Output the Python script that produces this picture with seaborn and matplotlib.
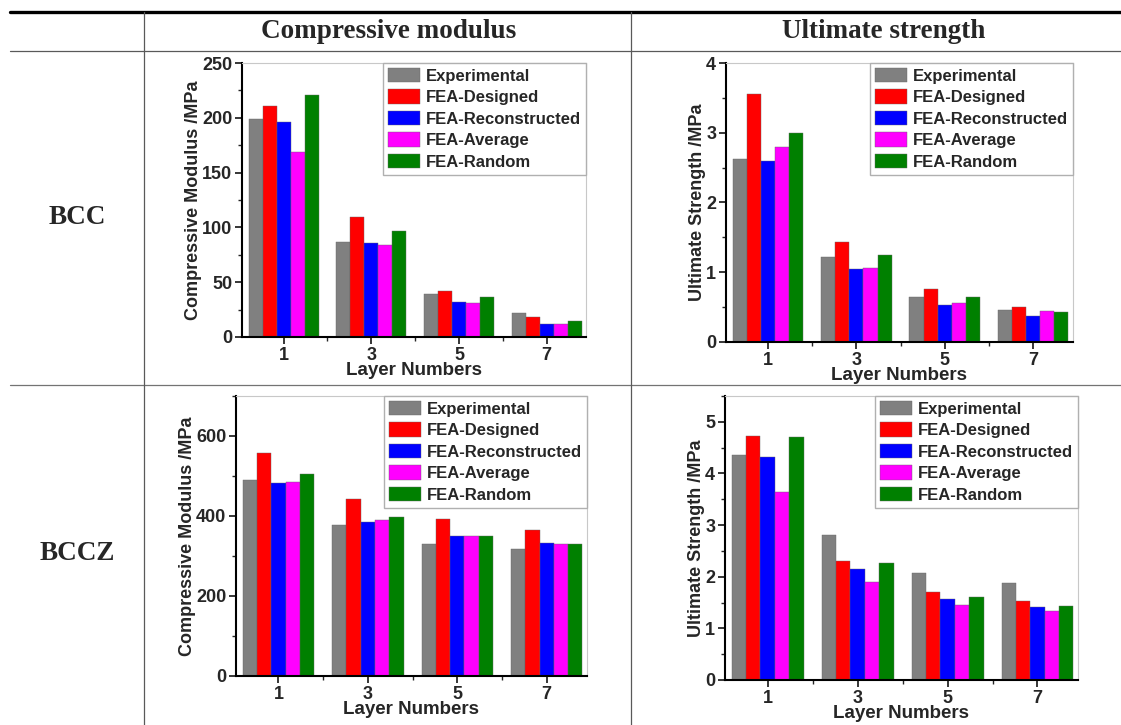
import matplotlib
matplotlib.use("Agg")
from matplotlib import pyplot as plt
from matplotlib.lines import Line2D
from matplotlib.ticker import MultipleLocator, FixedLocator
import pandas as pd
import seaborn as sns

sns.set_style("ticks")
plt.rcParams['font.family'] = ['Liberation Sans', 'DejaVu Sans']
plt.rcParams['font.weight'] = 'bold'
plt.rcParams['axes.labelweight'] = 'bold'

# Data
layers = [1, 3, 5, 7]
series = ["Experimental", "FEA-Designed", "FEA-Reconstructed", "FEA-Average", "FEA-Random"]
colors = ["#808080", "#ff0000", "#0000ff", "#ff00ff", "#008000"]

# rows follow the order of `series`, columns follow `layers`
bcc_modulus = [
    [199, 87, 39, 22],
    [211, 109.5, 41.5, 18],
    [196, 85.5, 31.5, 12],
    [168.5, 84, 31, 12],
    [220.5, 96.5, 36.5, 14.5],
]
bcc_strength = [
    [2.62, 1.22, 0.64, 0.46],
    [3.55, 1.44, 0.76, 0.50],
    [2.59, 1.05, 0.535, 0.37],
    [2.80, 1.06, 0.555, 0.45],
    [3.00, 1.245, 0.65, 0.43],
]
bccz_modulus = [
    [490, 378, 330, 317],
    [558, 443, 392, 366],
    [483, 386, 351, 332],
    [485, 391, 350, 329],
    [504, 398, 351, 330],
]
bccz_strength = [
    [4.36, 2.81, 2.075, 1.87],
    [4.72, 2.30, 1.695, 1.53],
    [4.32, 2.15, 1.565, 1.42],
    [3.65, 1.90, 1.45, 1.33],
    [4.71, 2.27, 1.60, 1.425],
]


def to_frame(values):
    rows = []
    for name, vals in zip(series, values):
        for layer, v in zip(layers, vals):
            rows.append({"layer": layer, "series": name, "value": v})
    return pd.DataFrame(rows)


def draw_panel(rect, values, ylabel, ymax, major, minor):
    ax = fig.add_axes(rect)
    sns.barplot(data=to_frame(values), x="layer", y="value", hue="series",
                hue_order=series, palette=colors, saturation=1,
                native_scale=True, width=0.8, errorbar=None,
                linewidth=0.3, edgecolor="0.4", ax=ax)
    ax.set_xlim(0.05, 7.9)
    ax.set_ylim(0, ymax)
    ax.xaxis.set_major_locator(FixedLocator(layers))
    ax.xaxis.set_minor_locator(FixedLocator([2, 4, 6]))
    ax.yaxis.set_major_locator(MultipleLocator(major))
    ax.yaxis.set_minor_locator(MultipleLocator(minor))
    ax.tick_params(which="major", direction="out", length=5, width=1.3,
                   labelsize=13, pad=2)
    ax.tick_params(which="minor", direction="out", length=3, width=1.0)
    for s in ["left", "bottom"]:
        ax.spines[s].set_linewidth(1.5)
        ax.spines[s].set_color("black")
    for s in ["top", "right"]:
        ax.spines[s].set_linewidth(0.8)
        ax.spines[s].set_color("#c8c8c8")
    ax.set_xlabel("Layer Numbers", fontsize=13.5, labelpad=-1)
    ax.set_ylabel(ylabel, fontsize=13, labelpad=0)
    ax.legend(loc="upper right", borderaxespad=0, fontsize=12,
              frameon=True, fancybox=False, edgecolor="#b0b0b0",
              framealpha=1, handlelength=1.9, handleheight=0.95,
              labelspacing=0.33, handletextpad=0.35, borderpad=0.3)
    return ax


fig = plt.figure(figsize=(11.21, 7.25), dpi=100)

draw_panel([0.2159, 0.5352, 0.3069, 0.3779], bcc_modulus,
           "Compressive Modulus /MPa", 250, 50, 25)
draw_panel([0.6476, 0.5283, 0.3095, 0.3848], bcc_strength,
           "Ultimate Strength /MPa", 4, 1, 0.5)
draw_panel([0.2105, 0.0676, 0.3131, 0.3862], bccz_modulus,
           "Compressive Modulus /MPa", 700, 200, 100)
draw_panel([0.6467, 0.0621, 0.3149, 0.3917], bccz_strength,
           "Ultimate Strength /MPa", 5.5, 1, 0.5)

# Table rules around the panels
W, H = 1121.0, 725.0
fig.add_artist(Line2D([10 / W, 1], [1 - 12 / H] * 2, color="black", lw=2.4))
fig.add_artist(Line2D([10 / W, 1], [1 - 51 / H] * 2, color="0.35", lw=0.9))
fig.add_artist(Line2D([10 / W, 1], [1 - 385 / H] * 2, color="0.45", lw=0.9))
for xpx in [143.5, 631]:
    fig.add_artist(Line2D([xpx / W] * 2, [0, 1 - 12 / H], color="0.35", lw=0.9))

serif = dict(family=["Liberation Serif", "DejaVu Serif"], weight="bold", fontsize=19.5,
             ha="center", va="center")
fig.text(389 / W, 1 - 31 / H, "Compressive modulus", **serif)
fig.text(884 / W, 1 - 31 / H, "Ultimate strength", **serif)
fig.text(77 / W, 1 - 217 / H, "BCC", **serif)
fig.text(77 / W, 1 - 553 / H, "BCCZ", **serif)

fig.savefig("out.png", dpi=100)
